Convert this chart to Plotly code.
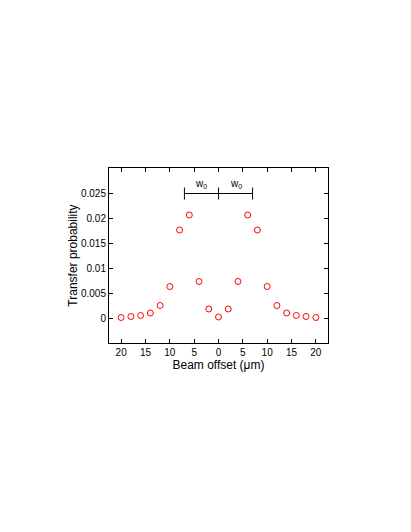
import plotly.graph_objects as go

# ── Data ──────────────────────────────────────────────────────────────────────
offset = [-20, -18, -16, -14, -12, -10, -8, -6, -4, -2, 0,
          2, 4, 6, 8, 10, 12, 14, 16, 18, 20]
prob = [0.0001, 0.0003, 0.0005, 0.0010, 0.0025, 0.0063, 0.0176, 0.0206,
        0.0073, 0.0018, 0.0002, 0.0018, 0.0073, 0.0206, 0.0176, 0.0063,
        0.0025, 0.0010, 0.0005, 0.0003, 0.0001]

x_ticks = [-20, -15, -10, -5, 0, 5, 10, 15, 20]
x_tick_text = ["20", "15", "10", "5", "0", "5", "10", "15", "20"]
y_ticks = [0, 0.005, 0.01, 0.015, 0.02, 0.025]
y_tick_text = ["0", "0.005", "0.01", "0.015", "0.02", "0.025"]

# beam-waist bracket
w0 = 7
bar_y = 0.0249
cap = 0.0012

FONT = "Liberation Sans, Arial, sans-serif"

fig = go.Figure()

fig.add_trace(go.Scatter(
    x=offset, y=prob,
    mode="markers",
    marker=dict(symbol="circle-open", color="#ff0000", size=6,
                line=dict(width=1, color="#ff0000")),
    showlegend=False,
))

# bracket: horizontal line plus three end caps
bx = [-w0, w0, None, -w0, -w0, None, 0, 0, None, w0, w0]
by = [bar_y, bar_y, None, bar_y - cap, bar_y + cap, None,
      bar_y - cap, bar_y + cap, None, bar_y - cap, bar_y + cap]
fig.add_trace(go.Scatter(
    x=bx, y=by, mode="lines",
    line=dict(color="black", width=1),
    showlegend=False, hoverinfo="skip",
))

for xl in [-w0 / 2, w0 / 2]:
    fig.add_annotation(
        x=xl, y=bar_y, yanchor="bottom", yshift=2,
        text="w<sub>0</sub>", showarrow=False,
        font=dict(family=FONT, size=10, color="black"),
    )

# page body has an 8px margin, so the figure is shrunk by that much
fig.update_layout(
    width=403, height=524,
    margin=dict(l=101, r=83, t=160, b=189),
    paper_bgcolor="white",
    plot_bgcolor="white",
    font=dict(family=FONT, size=10, color="black"),
)
fig.update_xaxes(
    range=[-22.5, 22.5],
    tickvals=x_ticks, ticktext=x_tick_text,
    ticks="inside", ticklen=4, tickcolor="black",
    showline=True, linecolor="black", linewidth=1, mirror="ticks",
    showgrid=False, zeroline=False,
    title=dict(text="Beam offset (μm)", font=dict(size=12), standoff=0),
)
fig.update_yaxes(
    range=[-0.005, 0.03],
    tickvals=y_ticks, ticktext=y_tick_text,
    ticks="inside", ticklen=4, tickcolor="black",
    showline=True, linecolor="black", linewidth=1, mirror="ticks",
    showgrid=False, zeroline=False,
    title=dict(text="Transfer probability", font=dict(size=12), standoff=0),
)

fig.write_html("out.html")
